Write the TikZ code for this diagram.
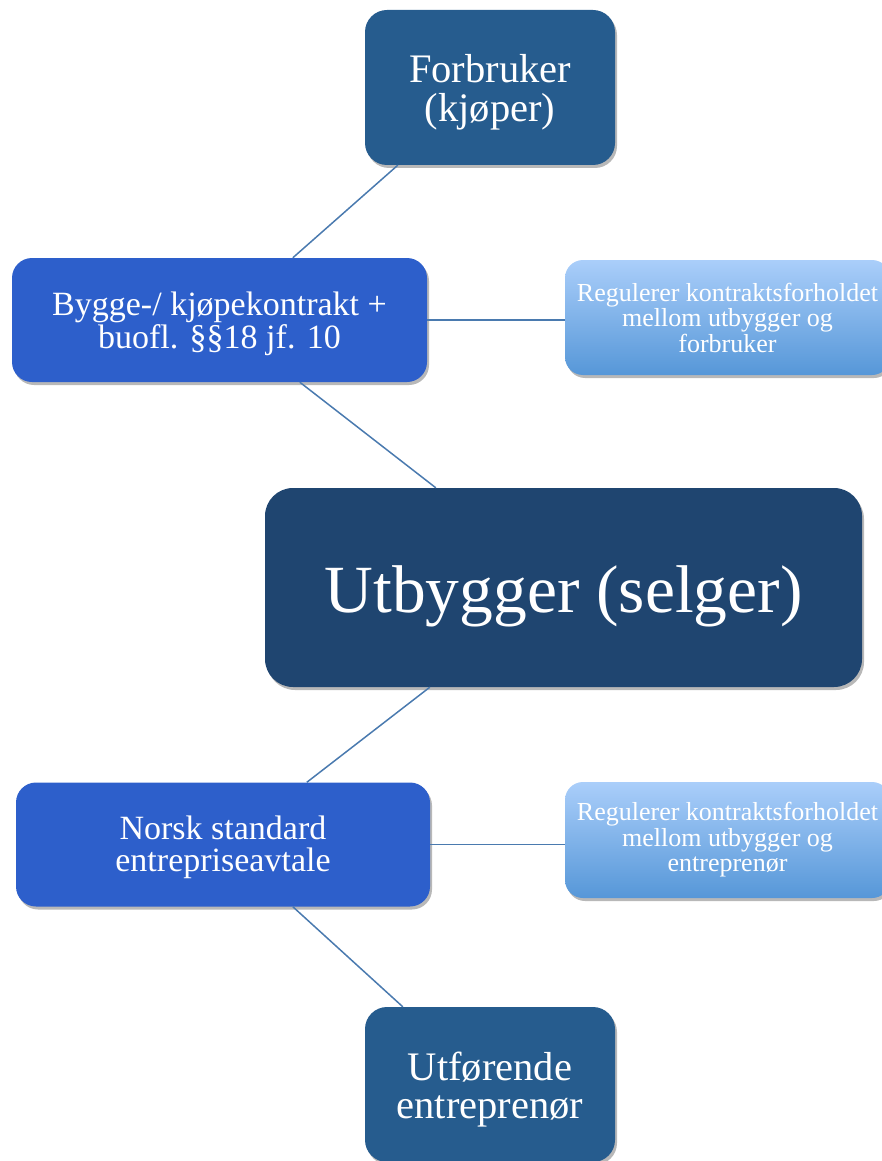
\documentclass[tikz,border=0pt]{standalone}
\usepackage{fontspec}
\setmainfont{Liberation Serif}
\usetikzlibrary{shadows,calc}
\definecolor{cMid}{RGB}{38,92,142}
\definecolor{cBright}{RGB}{45,95,203}
\definecolor{cDark}{RGB}{31,69,112}
\definecolor{cLightTop}{RGB}{170,206,250}
\definecolor{cLightBot}{RGB}{86,151,216}
\definecolor{cLine}{RGB}{74,122,175}
\tikzset{
  boxbase/.style={rectangle, inner sep=0pt,
    drop shadow={shadow xshift=2pt, shadow yshift=-3pt, opacity=0.28, fill=black}},
  txt/.style={inner sep=0pt, align=center, text=white},
  endbox/.style={boxbase, fill=cMid, rounded corners=22pt,
    minimum width=250pt, minimum height=155pt},
  endtext/.style={txt, font=\fontsize{40.5}{38.5}\selectfont},
  contractbox/.style={boxbase, fill=cBright, rounded corners=20pt,
    minimum height=124pt},
  contracttext/.style={txt, font=\fontsize{34}{32.5}\selectfont},
  notebox/.style={boxbase, top color=cLightTop, bottom color=cLightBot,
    rounded corners=18pt, minimum width=325pt},
  notetext/.style={txt, font=\fontsize{26}{25.5}\selectfont},
  centerbox/.style={boxbase, fill=cDark, rounded corners=28pt,
    minimum width=597pt, minimum height=199pt},
  centertext/.style={txt, font=\fontsize{67.5}{70}\selectfont},
  link/.style={draw=cLine, line width=1.5pt}
}
\begin{document}
\begin{tikzpicture}[x=1pt,y=-1pt]
\useasboundingbox (0,0) rectangle (882,1161);
\node[endbox] (forb) at (490,87.5) {};
\node[endtext] (forbT) at ($(forb.center)+(0,5)$) {Forbruker\\(kjøper)};
\node[contractbox, minimum width=415pt] (bygge) at (219.5,320) {};
\node[contracttext] (byggeT) at ($(bygge.center)+(0,4)$) {Bygge-/ kjøpekontrakt +\\buofl. §§18 jf. 10};
\node[notebox, minimum height=115pt] (reg1) at (727.5,317.5) {};
\node[notetext] (reg1T) at ($(reg1.center)+(0,0)$) {Regulerer kontraktsforholdet\\mellom utbygger og\\forbruker};
\node[centerbox] (utb) at (563.5,587.5) {};
\node[centertext] (utbT) at ($(utb.center)+(0,9)$) {Utbygger (selger)};
\node[contractbox, minimum width=414pt] (norsk) at (223,844.5) {};
\node[contracttext] (norskT) at ($(norsk.center)+(0,3)$) {Norsk standard\\entrepriseavtale};
\node[notebox, minimum height=116pt] (reg2) at (727.5,840) {};
\node[notetext] (reg2T) at ($(reg2.center)+(0,0)$) {Regulerer kontraktsforholdet\\mellom utbygger og\\entreprenør};
\node[endbox] (utf) at (490,1084.5) {};
\node[endtext] (utfT) at ($(utf.center)+(0,5)$) {Utførende\\entreprenør};

\draw[link] ($(forb.south west)+(33,0)$) -- ($(bygge.north west)+(281,0)$);
\draw[link] (bygge.east) -- (bygge.east -| reg1.west);
\draw[link] ($(bygge.south west)+(288,0)$) -- ($(utb.north west)+(171,0)$);
\draw[link] ($(utb.south west)+(165,0)$) -- ($(norsk.north west)+(291,0)$);
\draw[link] (norsk.east) -- (norsk.east -| reg2.west);
\draw[link] ($(norsk.south west)+(277,0)$) -- ($(utf.north west)+(38,0)$);
\end{tikzpicture}
\end{document}
